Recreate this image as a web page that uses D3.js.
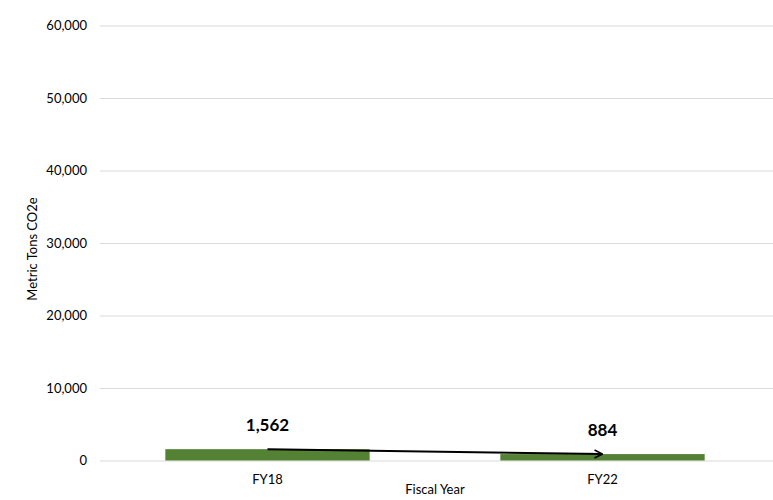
<!DOCTYPE html>
<html lang="en">
<head>
<meta charset="utf-8">
<title>Metric Tons CO2e by Fiscal Year</title>
<script src="https://d3js.org/d3.v7.min.js"></script>
<style>
  body { margin: 0; background: #fff; }
  text { font-family: Lato, "Open Sans", sans-serif; }
</style>
</head>
<body>
<script>
// data
var years = ["FY18", "FY22"];
var emissions = [1562, 884];
var yTicks = [0, 10000, 20000, 30000, 40000, 50000, 60000];

// sizes
var w = 773, h = 500;
var plotLeft = 100, plotRight = 770, plotTop = 25.5, plotBottom = 460.5;

var svg = d3.select("body").append("svg")
  .attr("width", w)
  .attr("height", h);

var xScale = d3.scaleBand()
  .domain(years)
  .range([plotLeft, plotRight])
  .paddingInner(0.39)
  .paddingOuter(0.195);

var yScale = d3.scaleLinear()
  .domain([0, 60000])
  .range([plotBottom, plotTop]);

// gridlines + y labels
var yAxis = d3.axisLeft(yScale)
  .tickValues(yTicks)
  .tickSize(-(w - plotLeft))
  .tickPadding(13)
  .tickFormat(d3.format(","));

var gy = svg.append("g")
  .attr("transform", "translate(" + plotLeft + ",0)")
  .call(yAxis);
gy.select(".domain").remove();
gy.selectAll(".tick line").attr("stroke", "#d9d9d9").attr("stroke-width", 1);
gy.selectAll(".tick text").attr("fill", "#000").style("font-size", "13px");

// bars
svg.selectAll("rect.bar")
  .data(years)
  .enter()
  .append("rect")
  .attr("class", "bar")
  .attr("x", function(d) { return xScale(d); })
  .attr("width", xScale.bandwidth())
  .attr("y", function(d, i) { return yScale(emissions[i]); })
  .attr("height", function(d, i) { return yScale(0) - yScale(emissions[i]); })
  .attr("fill", "#548235");

// x labels
var xAxis = d3.axisBottom(xScale).tickSize(0).tickPadding(14);
var gx = svg.append("g")
  .attr("transform", "translate(0," + plotBottom + ")")
  .call(xAxis);
gx.select(".domain").remove();
gx.selectAll(".tick text").attr("fill", "#000").style("font-size", "13px");

// value labels
svg.selectAll("text.val")
  .data(years)
  .enter()
  .append("text")
  .attr("class", "val")
  .attr("x", function(d) { return xScale(d) + xScale.bandwidth() / 2; })
  .attr("y", function(d, i) { return yScale(emissions[i]) - 18; })
  .attr("text-anchor", "middle")
  .style("font-size", "17px")
  .style("font-weight", "bold")
  .text(function(d, i) { return d3.format(",")(emissions[i]); });

// trend arrow
svg.append("defs").append("marker")
  .attr("id", "arrow")
  .attr("viewBox", "0 0 10 10")
  .attr("refX", 9)
  .attr("refY", 5)
  .attr("markerWidth", 5)
  .attr("markerHeight", 5)
  .attr("orient", "auto")
  .append("path")
  .attr("d", "M1,1 L9,5 L1,9")
  .attr("fill", "none")
  .attr("stroke", "#000")
  .attr("stroke-width", 1.6);

var cx = function(d) { return xScale(d) + xScale.bandwidth() / 2; };
svg.append("line")
  .attr("x1", cx(years[0]))
  .attr("y1", yScale(emissions[0]))
  .attr("x2", cx(years[1]))
  .attr("y2", yScale(emissions[1]))
  .attr("stroke", "#000")
  .attr("stroke-width", 2)
  .attr("marker-end", "url(#arrow)");

// axis titles
svg.append("text")
  .attr("x", (plotLeft + plotRight) / 2)
  .attr("y", 494)
  .attr("text-anchor", "middle")
  .style("font-size", "13px")
  .text("Fiscal Year");

svg.append("text")
  .attr("transform", "translate(37,249) rotate(-90)")
  .attr("text-anchor", "middle")
  .style("font-size", "13px")
  .text("Metric Tons CO2e");
</script>
</body>
</html>
